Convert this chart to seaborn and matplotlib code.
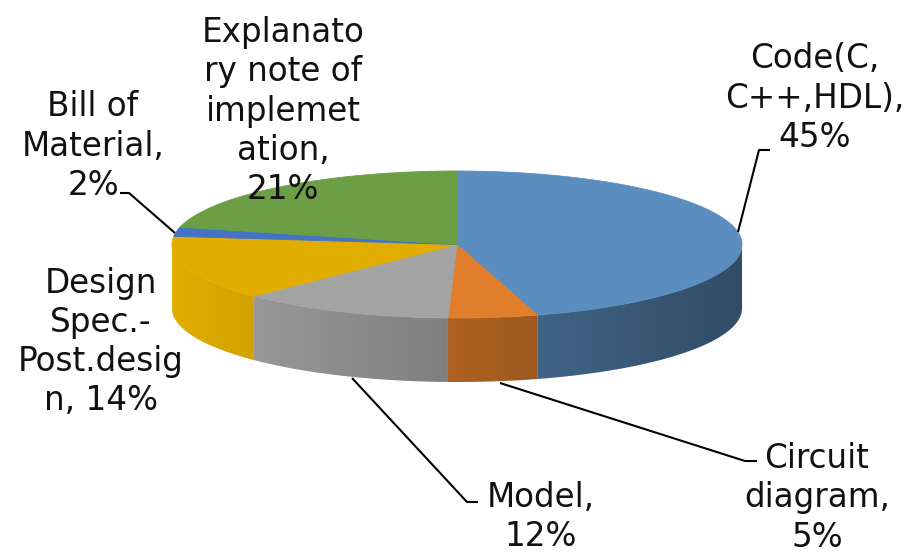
import numpy as np
import matplotlib
matplotlib.use("Agg")
import matplotlib.pyplot as plt
from matplotlib.patches import Polygon
from matplotlib.colors import to_rgb
import seaborn as sns

# ---- data ----
categories = ["Code(C,\nC++,HDL),\n45%", "Circuit\ndiagram,\n5%", "Model,\n12%",
              "Design\nSpec.-\nPost.desig\nn, 14%", "Bill of\nMaterial,\n2%",
              "Explanato\nry note of\nimplemet\nation,\n21%"]
values = [45, 5, 12, 14, 2, 21]
colors = ["#5B8EBE", "#E07E2C", "#A3A3A3", "#E1AE00", "#4472C4", "#6B9E45"]

sns.set_theme(style="white")
plt.rcParams['font.family'] = ['DejaVu Sans']
palette = sns.color_palette(colors)

W, H = 910, 555
fig = plt.figure(figsize=(W / 100, H / 100), dpi=100)
ax = fig.add_axes([0, 0, 1, 1])

cx, cy, a, b, depth = 457, 244.5, 285, 73.5, 64


def rim(theta, dy=0.0):
    return cx + a * np.sin(theta), cy - b * np.cos(theta) + dy


def shade(x):
    t = np.clip((x - (cx - a)) / (2 * a), 0, 1)
    return 1.0 - 0.46 * t


fracs = np.array(values, float) / np.sum(values)
bounds = np.concatenate([[0], np.cumsum(fracs)]) * 2 * np.pi

# side walls (front half only)
for i in range(len(values)):
    t1, t2 = bounds[i], bounds[i + 1]
    s1, s2 = max(t1, np.pi / 2), min(t2, 3 * np.pi / 2)
    if s2 <= s1:
        continue
    th = np.linspace(s1, s2, 120)
    xt, yt = rim(th)
    xb, yb = rim(th[::-1], depth)
    poly = np.column_stack([np.concatenate([xt, xb]), np.concatenate([yt, yb])])
    base = np.array(to_rgb(palette[i]))
    x0, x1 = xt.min(), xt.max()
    xs = np.linspace(x0, x1, 200)
    img = np.clip(base[None, None, :] * shade(xs)[None, :, None], 0, 1)
    patch = Polygon(poly, closed=True, facecolor="none", edgecolor="none")
    ax.add_patch(patch)
    im = ax.imshow(img, extent=(x0, x1, yt.max() + depth + 2, yt.min() - 2),
                   aspect="auto", interpolation="bilinear", zorder=1)
    im.set_clip_path(patch)

# top faces
for i in range(len(values)):
    th = np.linspace(bounds[i], bounds[i + 1], 200)
    xt, yt = rim(th)
    poly = np.column_stack([np.concatenate([[cx], xt]), np.concatenate([[cy], yt])])
    ax.add_patch(Polygon(poly, closed=True, facecolor=palette[i],
                         edgecolor=palette[i], linewidth=0.6, zorder=2))

# labels
fs = 23.5
label_pos = [(815, 98), (817, 498), (541, 517), (101, 342), (93, 146), (283, 111)]
for lab, (x, y) in zip(categories, label_pos):
    ax.text(x, y, lab, ha="center", va="center", fontsize=fs, color="#111111",
            linespacing=1.24, zorder=5)

# leader lines
leaders = [
    [(738, 232), (759, 150), (770, 150)],
    [(500, 383), (745, 461), (757, 461)],
    [(352, 378), (467, 502), (478, 502)],
    [(175, 233), (129, 193), (120, 193)],
]
for pts in leaders:
    xs, ys = zip(*pts)
    ax.plot(xs, ys, color="black", lw=1.5, zorder=4, solid_capstyle="butt")

ax.set_xlim(0, W)
ax.set_ylim(H, 0)
ax.axis("off")
fig.savefig("out.png", dpi=100, facecolor="white")
